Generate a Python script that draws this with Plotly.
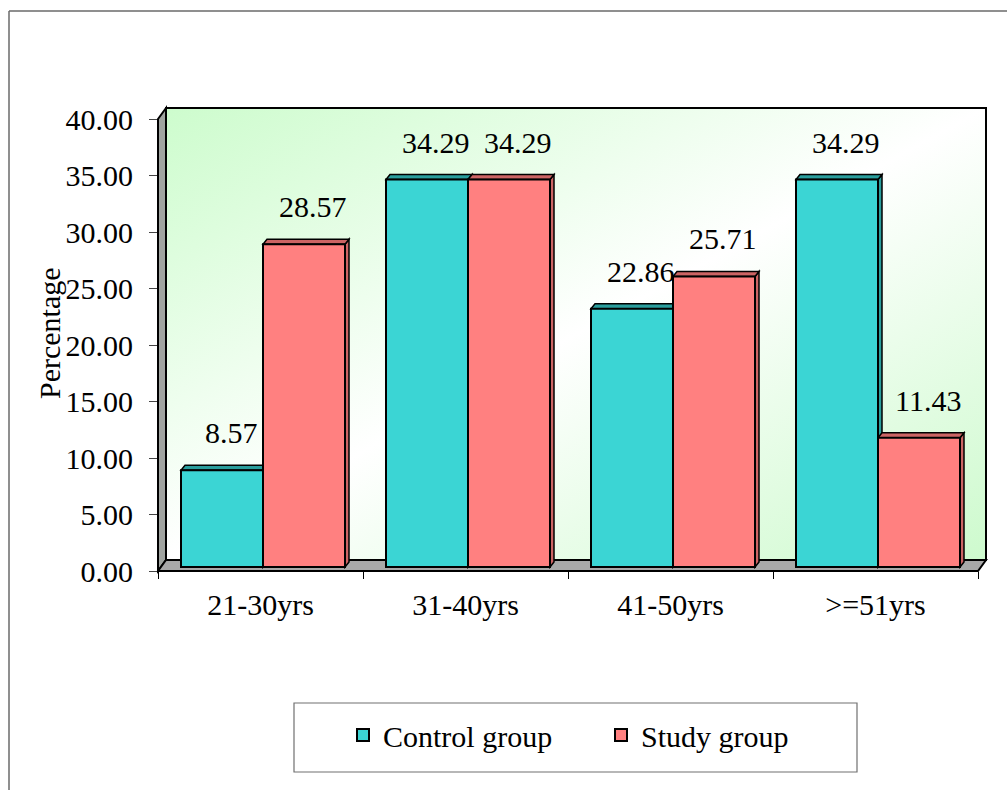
import base64
import plotly.graph_objects as go

# ---- data -------------------------------------------------------------
categories = ["21-30yrs", "31-40yrs", "41-50yrs", ">=51yrs"]
control_group = [8.57, 34.29, 22.86, 34.29]
study_group = [28.57, 34.29, 25.71, 11.43]
y_ticks = [0, 5, 10, 15, 20, 25, 30, 35, 40]

# ---- geometry (pixels) -------------------------------------------------
W, H = 1007, 790
FX0, FX1 = 158, 978          # front plane, left / right
FY0, FY1 = 571, 119          # front plane, value 0 / value 40
Y_MAX = 40
N = len(categories)
PX_PER_CAT = (FX1 - FX0) / N
PX_PER_UNIT = (FY0 - FY1) / Y_MAX

WALL_DX, WALL_DY = 8, 11     # depth of the back wall
BAR_DX, BAR_DY = 2.5, 4      # bar front faces sit slightly behind the front plane
DEPTH_DX, DEPTH_DY = 4, 5    # depth of each bar

FONT = "Liberation Serif, Times New Roman, serif"
FS = 30

CONTROL, CONTROL_DARK = "#3bd5d4", "#2a9e9d"
STUDY, STUDY_DARK = "#ff8080", "#cc6464"


def px(x):
    return x / W


def py(y):
    return 1 - y / H


s_x = BAR_DX / PX_PER_CAT
s_y = BAR_DY / PX_PER_UNIT
dx = DEPTH_DX / PX_PER_CAT
dy = DEPTH_DY / PX_PER_UNIT

xs = list(range(N))

fig = go.Figure()

fig.add_trace(go.Bar(
    x=xs, y=control_group, name="Control group",
    marker=dict(color=CONTROL, line=dict(color="black", width=2)),
    xaxis="x", yaxis="y", hoverinfo="skip",
))
fig.add_trace(go.Bar(
    x=xs, y=study_group, name="Study group",
    marker=dict(color=STUDY, line=dict(color="black", width=2)),
    xaxis="x", yaxis="y", hoverinfo="skip",
))
# empty trace that carries the visible front axes
fig.add_trace(go.Scatter(x=[None], y=[None], xaxis="x2", yaxis="y2",
                         showlegend=False, hoverinfo="skip"))

shapes = []


def poly(points, fill, ref=("paper", "paper"), width=1.5, color="black"):
    if ref[0] == "paper":
        pts = [(px(a), py(b)) for a, b in points]
    else:
        pts = points
    path = "M " + " L ".join(f"{a},{b}" for a, b in pts) + " Z"
    return dict(type="path", path=path, xref=ref[0], yref=ref[1],
                fillcolor=fill, line=dict(color=color, width=width),
                layer="below")


# back wall outline (the gradient fill is a layout image underneath)
bx0, by0 = FX0 + WALL_DX, FY1 - WALL_DY
bx1, by1 = FX1 + WALL_DX, FY0 - WALL_DY
shapes.append(poly([(bx0, by0), (bx1, by0), (bx1, by1), (bx0, by1)],
                   "rgba(0,0,0,0)", width=2))
# left side wall
shapes.append(poly([(FX0, FY0), (FX0, FY1), (bx0, by0), (bx0, by1)],
                   "#a0a4a0", width=2))
# floor
shapes.append(poly([(FX0, FY0), (FX1, FY0), (bx1, by1), (bx0, by1)],
                   "#a8a8a8", width=2))

# top and side faces of each bar, built from the series values
for vals, off, dark in ((control_group, -0.4, CONTROL_DARK),
                        (study_group, 0.0, STUDY_DARK)):
    for i, v in enumerate(vals):
        x0 = i + off
        x1 = x0 + 0.4
        shapes.append(poly([(x1, 0), (x1, v), (x1 + dx, v + dy), (x1 + dx, dy)],
                           dark, ref=("x", "y"), width=1.5))
        shapes.append(poly([(x0, v), (x1, v), (x1 + dx, v + dy), (x0 + dx, v + dy)],
                           dark, ref=("x", "y"), width=1.5))

# legend frame
shapes.append(dict(type="rect", xref="paper", yref="paper",
                   x0=px(294), x1=px(857), y0=py(772), y1=py(703),
                   line=dict(color="#707070", width=1.2), fillcolor="white",
                   layer="below"))
# outer chart frame (top and left edges)
shapes.append(dict(type="line", xref="paper", yref="paper",
                   x0=px(9), x1=1, y0=py(11), y1=py(11),
                   line=dict(color="#6a6a6a", width=1.5), layer="below"))
shapes.append(dict(type="line", xref="paper", yref="paper",
                   x0=px(9), x1=px(9), y0=py(11), y1=0,
                   line=dict(color="#6a6a6a", width=1.5), layer="below"))

# value labels
annotations = []
for vals, off in ((control_group, -0.2), (study_group, 0.2)):
    for i, v in enumerate(vals):
        annotations.append(dict(
            x=i + off, y=v, xref="x", yref="y", text=f"{v:.2f}",
            showarrow=False, yanchor="bottom", xanchor="center",
            xshift=9, yshift=19, font=dict(family=FONT, size=FS, color="black"),
        ))
annotations.append(dict(
    x=px(49), y=py(333), xref="paper", yref="paper", text="Percentage",
    textangle=-90, showarrow=False, xanchor="center", yanchor="middle",
    font=dict(family=FONT, size=FS, color="black"),
))

# diagonal light-green gradient for the back wall
gw, gh = bx1 - bx0, by1 - by0
svg = (
    f'<svg xmlns="http://www.w3.org/2000/svg" width="{gw}" height="{gh}" '
    f'viewBox="0 0 {gw} {gh}" preserveAspectRatio="none">'
    '<defs><linearGradient id="g" x1="0" y1="0" x2="1" y2="1">'
    '<stop offset="0" stop-color="#cdfccd"/>'
    '<stop offset="0.5" stop-color="#ffffff"/>'
    '<stop offset="1" stop-color="#cdfacd"/>'
    '</linearGradient></defs>'
    f'<rect width="{gw}" height="{gh}" fill="url(#g)"/></svg>'
)
src = "data:image/svg+xml;base64," + base64.b64encode(svg.encode()).decode()

fig.update_layout(
    width=W, height=H, autosize=False,
    margin=dict(l=0, r=0, t=0, b=0, pad=0, autoexpand=False),
    paper_bgcolor="white", plot_bgcolor="rgba(0,0,0,0)",
    barmode="group", bargap=0.2, bargroupgap=0,
    font=dict(family=FONT, size=FS, color="black"),
    showlegend=True,
    legend=dict(orientation="h", x=px(343), xanchor="left",
                y=py(735), yanchor="middle", bgcolor="rgba(0,0,0,0)",
                font=dict(family=FONT, size=FS, color="black"),
                entrywidth=213, entrywidthmode="pixels", traceorder="normal"),
    xaxis=dict(domain=[px(FX0), px(FX1)], range=[-0.5 - s_x, N - 0.5 - s_x],
               visible=False, fixedrange=True, automargin=False),
    yaxis=dict(domain=[py(FY0), py(FY1)], range=[-s_y, Y_MAX - s_y],
               visible=False, fixedrange=True, automargin=False),
    xaxis2=dict(overlaying="x", anchor="y2", range=[-0.5, N - 0.5],
                tickmode="array", tickvals=xs, ticktext=categories,
                ticks="outside", ticklen=7, tickcolor="rgba(0,0,0,0)",
                minor=dict(tickmode="array",
                           tickvals=[i - 0.5 for i in range(N + 1)],
                           ticks="outside", ticklen=7, tickcolor="black",
                           tickwidth=1),
                showgrid=False, zeroline=False, showline=False,
                tickfont=dict(family=FONT, size=FS, color="black"),
                fixedrange=True, automargin=False),
    yaxis2=dict(overlaying="y", anchor="x2", range=[0, Y_MAX],
                tickmode="array", tickvals=y_ticks,
                ticktext=[f"{t:.2f}" for t in y_ticks],
                ticks="outside", ticklen=8, tickcolor="#444", tickwidth=1,
                ticklabelstandoff=10,
                showgrid=False, zeroline=False, showline=False,
                tickfont=dict(family=FONT, size=FS, color="black"),
                fixedrange=True, automargin=False),
    shapes=shapes,
    annotations=annotations,
    images=[dict(source=src, xref="paper", yref="paper",
                 x=px(bx0), y=py(by0), sizex=px(gw), sizey=gh / H,
                 xanchor="left", yanchor="top", sizing="stretch",
                 layer="below")],
)

fig.write_html("out.html")
